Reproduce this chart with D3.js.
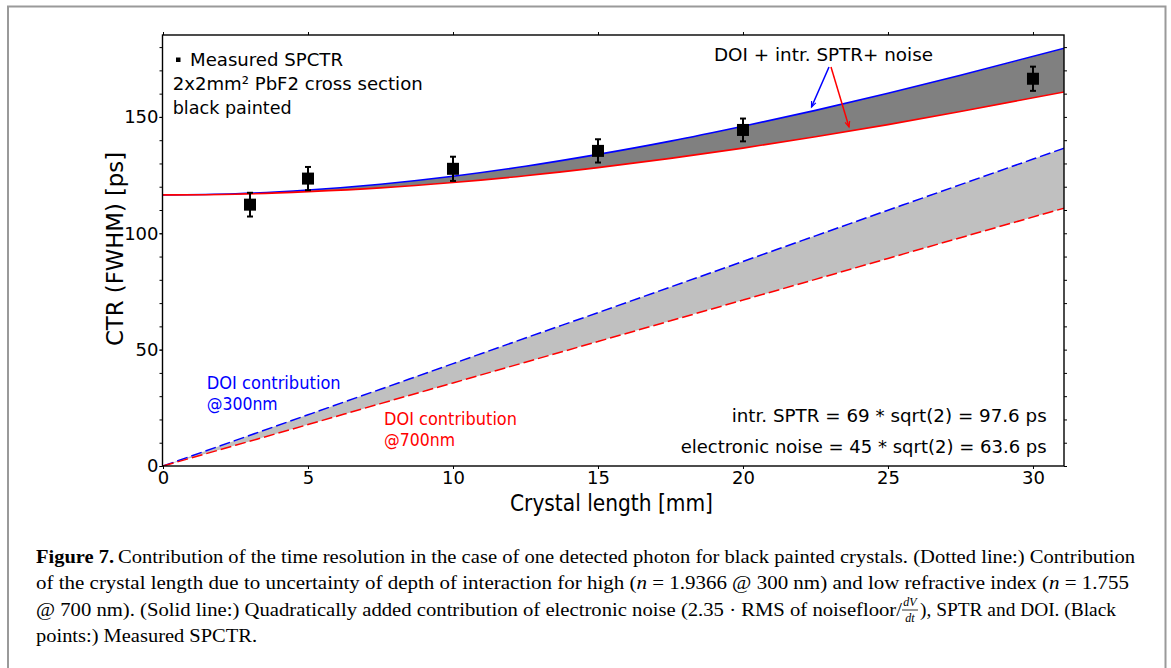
<!DOCTYPE html>
<html>
<head>
<meta charset="utf-8">
<script src="https://cdn.jsdelivr.net/npm/d3@7"></script>
<style>
  html, body { margin: 0; padding: 0; background: #fff; }
  svg { display: block; }
</style>
</head>
<body>
<svg id="fig" width="1171" height="668"></svg>
<script>
// Crystal length samples [mm] for the model curves
const lengths = [0, 2.5, 5, 7.5, 10, 12.5, 15, 17.5, 20, 22.5, 25, 27.5, 31.1];
// DOI contribution [ps] at 300 nm (high n) and 700 nm (low n)
const doi300 = [0, 11.0, 22.0, 33.0, 44.0, 55.0, 65.9, 76.9, 87.9, 98.9, 109.9, 120.9, 136.7];
const doi700 = [0, 8.9, 17.8, 26.8, 35.7, 44.6, 53.5, 62.4, 71.3, 80.2, 89.2, 98.1, 110.9];
// DOI + intrinsic SPTR + electronic noise [ps]
const total300 = [116.5, 117.0, 118.6, 121.1, 124.5, 128.8, 133.9, 139.6, 146.0, 152.8, 160.2, 167.9, 179.6];
const total700 = [116.5, 116.8, 117.9, 119.5, 121.8, 124.7, 128.2, 132.2, 136.6, 141.5, 146.7, 152.3, 160.8];
// Measured SPCTR
const measLength = [3, 5, 10, 15, 20, 30];
const measCTR = [112.3, 123.5, 127.7, 135.4, 144.4, 166.4];
const measErr = [5.1, 5.0, 5.2, 5.0, 4.9, 5.2];
// Axis ticks
const xTicks = [0, 5, 10, 15, 20, 25, 30];
const yTicks = [0, 50, 100, 150];
const yMinorTicks = d3.range(0, 190, 10);

const svg = d3.select("#fig");
const FONT = "'DejaVu Sans', Verdana, sans-serif";
const SERIF = "'Liberation Serif', 'Times New Roman', serif";

// outer figure border
svg.append("path")
  .attr("d", "M8,672 L8,6.5 L1165.5,6.5 L1165.5,672")
  .attr("fill", "none").attr("stroke", "#9a9a9a").attr("stroke-width", 2);

const L = 162.5, R = 1064, T = 35, B = 466;
const x = d3.scaleLinear().domain([0, 31.07]).range([163, R]);
const y = d3.scaleLinear().domain([0, 185.2]).range([B, T]);

const defs = svg.append("defs");
defs.append("clipPath").attr("id", "plotclip")
  .append("rect").attr("x", L).attr("y", T).attr("width", R - L).attr("height", B - T);

const plot = svg.append("g").attr("clip-path", "url(#plotclip)");

const idx = d3.range(lengths.length);

// shaded bands
const area = (lo, hi) => d3.area()
  .x(i => x(lengths[i])).y0(i => y(lo[i])).y1(i => y(hi[i]))
  .curve(d3.curveMonotoneX);
plot.append("path").attr("d", area(doi700, doi300)(idx)).attr("fill", "#c0c0c0");
plot.append("path").attr("d", area(total700, total300)(idx)).attr("fill", "#808080");

const line = vals => d3.line().x(i => x(lengths[i])).y(i => y(vals[i])).curve(d3.curveMonotoneX)(idx);

// DOI lines (dashed)
plot.append("path").attr("d", line(doi300)).attr("fill", "none")
  .attr("stroke", "#0000ff").attr("stroke-width", 1.5).attr("stroke-dasharray", "11,4");
plot.append("path").attr("d", line(doi700)).attr("fill", "none")
  .attr("stroke", "#ff0000").attr("stroke-width", 1.5).attr("stroke-dasharray", "11,4");
// total resolution curves
plot.append("path").attr("d", line(total300)).attr("fill", "none")
  .attr("stroke", "#0000ff").attr("stroke-width", 1.6);
plot.append("path").attr("d", line(total700)).attr("fill", "none")
  .attr("stroke", "#ff0000").attr("stroke-width", 1.6);

// measured points with error bars
const pts = svg.append("g");
measLength.forEach((len, i) => {
  const cx = x(len), cy = y(measCTR[i]);
  const yt = y(measCTR[i] + measErr[i]), yb = y(measCTR[i] - measErr[i]);
  pts.append("line").attr("x1", cx).attr("x2", cx).attr("y1", yt).attr("y2", yb)
    .attr("stroke", "#000").attr("stroke-width", 2);
  pts.append("line").attr("x1", cx - 3).attr("x2", cx + 3).attr("y1", yt).attr("y2", yt)
    .attr("stroke", "#000").attr("stroke-width", 2);
  pts.append("line").attr("x1", cx - 3).attr("x2", cx + 3).attr("y1", yb).attr("y2", yb)
    .attr("stroke", "#000").attr("stroke-width", 2);
  pts.append("rect").attr("x", cx - 6).attr("y", cy - 6).attr("width", 12).attr("height", 12)
    .attr("fill", "#000");
});

// axes
const styleAxis = g => {
  g.select(".domain").remove();
  g.selectAll(".tick line").attr("stroke", "#000").attr("stroke-width", 1);
  g.selectAll(".tick text").attr("font-family", FONT).attr("font-size", 18).attr("fill", "#000");
};
svg.append("g").attr("transform", `translate(${L},0)`)
  .call(d3.axisLeft(y).tickValues(yMinorTicks).tickSize(3).tickFormat(""))
  .call(styleAxis);
svg.append("g").attr("transform", `translate(${L},0)`)
  .call(d3.axisLeft(y).tickValues(yTicks).tickSize(3).tickPadding(1).tickFormat(d3.format("d")))
  .call(styleAxis);
svg.append("g").attr("transform", `translate(${R},0)`)
  .call(d3.axisRight(y).tickValues(yMinorTicks).tickSize(3).tickFormat(""))
  .call(styleAxis);
svg.append("g").attr("transform", `translate(0,${B})`)
  .call(d3.axisBottom(x).tickValues(xTicks).tickSize(3).tickPadding(2).tickFormat(d3.format("d")))
  .call(styleAxis);
svg.append("g").attr("transform", `translate(0,${T})`)
  .call(d3.axisTop(x).tickValues(xTicks).tickSize(3).tickFormat(""))
  .call(styleAxis);

// plot frame
svg.append("rect").attr("x", L).attr("y", T).attr("width", R - L).attr("height", B - T)
  .attr("fill", "none").attr("stroke", "#000").attr("stroke-width", 1.4);

// axis titles
svg.append("text").attr("x", 611.5).attr("y", 511).attr("text-anchor", "middle")
  .attr("font-family", FONT).attr("font-size", 23).attr("textLength", 203)
  .attr("lengthAdjust", "spacingAndGlyphs").text("Crystal length [mm]");
svg.append("text").attr("transform", "translate(123,249) rotate(-90)").attr("text-anchor", "middle")
  .attr("font-family", FONT).attr("font-size", 22.5).attr("textLength", 194)
  .attr("lengthAdjust", "spacingAndGlyphs").text("CTR (FWHM) [ps]");

// annotations
const note = (tx, ty, len, str, color) => svg.append("text")
  .attr("x", tx).attr("y", ty).attr("font-family", FONT).attr("font-size", 18.5)
  .attr("fill", color || "#000").attr("textLength", len).attr("lengthAdjust", "spacingAndGlyphs")
  .text(str);

svg.append("rect").attr("x", 176).attr("y", 57.5).attr("width", 4.5).attr("height", 4.5).attr("fill", "#000");
note(190, 66, 153, "Measured SPCTR");
note(172.7, 90, 250, "2x2mm\u00b2 PbF2 cross section");
note(172.7, 114, 119, "black painted");
note(714, 61, 219, "DOI + intr. SPTR+ noise");
note(731.7, 422, 315, "intr. SPTR = 69 * sqrt(2) = 97.6 ps");
note(680.7, 453, 366, "electronic noise = 45 * sqrt(2) = 63.6 ps");
note(206.7, 389, 134, "DOI contribution", "#0000ff");
note(206.7, 410, 71, "@300nm", "#0000ff");
note(384, 425, 133, "DOI contribution", "#ff0000");
note(384, 446, 71, "@700nm", "#ff0000");

// arrows pointing at the two total curves
const arrow = (x1, y1, x2, y2, color) => {
  svg.append("line").attr("x1", x1).attr("y1", y1).attr("x2", x2).attr("y2", y2)
    .attr("stroke", color).attr("stroke-width", 1.5);
  const a = Math.atan2(y2 - y1, x2 - x1), h = 6, w = 0.4;
  const p = [[x2 - h * Math.cos(a - w), y2 - h * Math.sin(a - w)], [x2, y2],
             [x2 - h * Math.cos(a + w), y2 - h * Math.sin(a + w)]];
  svg.append("path").attr("d", d3.line()(p)).attr("fill", "none")
    .attr("stroke", color).attr("stroke-width", 1.2);
};
arrow(829, 67, 811.5, 107, "#0000ff");
arrow(831, 67, 849, 127, "#ff0000");

// caption
const cap = svg.append("g").attr("font-family", SERIF).attr("font-size", 19.5).attr("fill", "#000");
cap.append("text").attr("x", 36).attr("y", 563).attr("font-weight", "bold")
  .attr("textLength", 78).attr("lengthAdjust", "spacingAndGlyphs").text("Figure 7.");
cap.append("text").attr("x", 118).attr("y", 563)
  .attr("textLength", 1017).attr("lengthAdjust", "spacingAndGlyphs")
  .text("Contribution of the time resolution in the case of one detected photon for black painted crystals. (Dotted line:) Contribution");

const l2 = cap.append("text").attr("x", 36).attr("y", 589)
  .attr("textLength", 1093).attr("lengthAdjust", "spacingAndGlyphs");
l2.append("tspan").text("of the crystal length due to uncertainty of depth of interaction for high (");
l2.append("tspan").attr("font-style", "italic").text("n");
l2.append("tspan").text(" = 1.9366 @ 300 nm) and low refractive index (");
l2.append("tspan").attr("font-style", "italic").text("n");
l2.append("tspan").text(" = 1.755");

cap.append("text").attr("x", 36).attr("y", 616)
  .attr("textLength", 866).attr("lengthAdjust", "spacingAndGlyphs")
  .text("@ 700 nm). (Solid line:) Quadratically added contribution of electronic noise (2.35 \u00b7 RMS of noisefloor/");
// dV/dt fraction
const fx = 910;
cap.append("text").attr("x", fx).attr("y", 606).attr("text-anchor", "middle")
  .attr("font-size", 12).attr("font-style", "italic").text("dV");
cap.append("line").attr("x1", fx - 8).attr("x2", fx + 8).attr("y1", 610).attr("y2", 610)
  .attr("stroke", "#000").attr("stroke-width", 0.8);
cap.append("text").attr("x", fx).attr("y", 622).attr("text-anchor", "middle")
  .attr("font-size", 12).attr("font-style", "italic").text("dt");
cap.append("text").attr("x", 920).attr("y", 616)
  .attr("textLength", 196).attr("lengthAdjust", "spacingAndGlyphs")
  .text("), SPTR and DOI. (Black");

cap.append("text").attr("x", 36).attr("y", 642)
  .attr("textLength", 221).attr("lengthAdjust", "spacingAndGlyphs")
  .text("points:) Measured SPCTR.");
</script>
</body>
</html>
